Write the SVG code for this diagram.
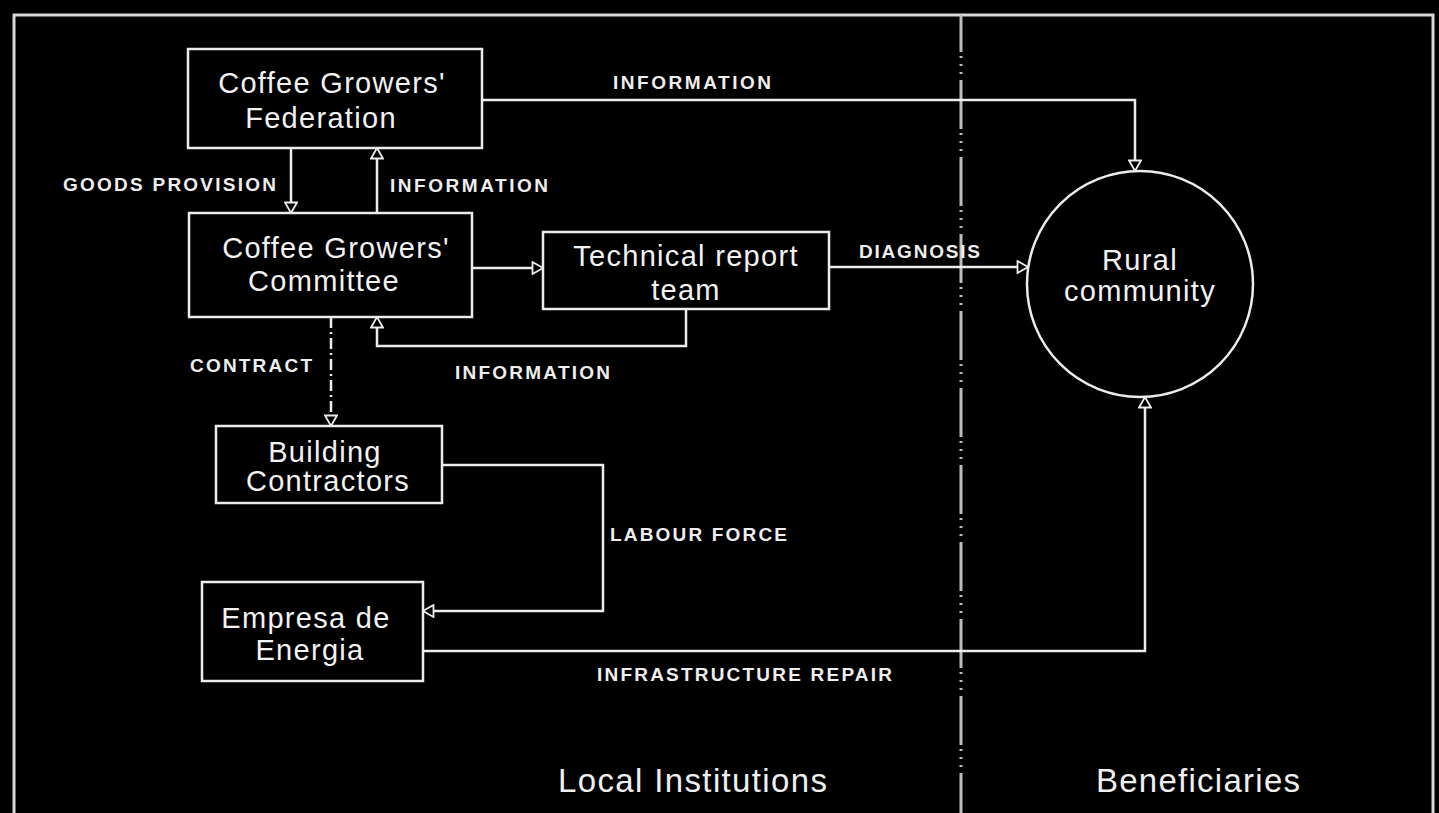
<svg xmlns="http://www.w3.org/2000/svg" width="1439" height="813" viewBox="0 0 1439 813">
  <style>
    .frame { fill: none; stroke: #d8d8d8; stroke-width: 3; }
    .divider { fill: none; stroke: #bdbdbd; stroke-width: 3; stroke-dasharray: 49 4 2 6 2 6 2 6; stroke-dashoffset: 12; }
    .box { fill: #000; stroke: #ececec; stroke-width: 2.5; }
    .conn { fill: none; stroke: #ececec; stroke-width: 2.5; marker-end: url(#open); }
    .dashdot { stroke-dasharray: 11 4 2 4; }
    .node { font-family: "Liberation Sans", Arial, sans-serif; font-size: 29px; fill: #f2f2f2; text-anchor: middle; letter-spacing: 1.3px; }
    .lbl { font-family: "Liberation Sans", Arial, sans-serif; font-size: 19px; font-weight: bold; fill: #eeeeee; }
    .zone { font-family: "Liberation Sans", Arial, sans-serif; font-size: 33px; fill: #efefef; }
  </style>
  <defs>
    <marker id="open" viewBox="0 0 14 14" markerWidth="14" markerHeight="14" refX="12" refY="7" orient="auto" markerUnits="userSpaceOnUse">
      <path d="M1.5,1 L12,7 L1.5,13 Z" fill="#000" stroke="#ececec" stroke-width="1.8" stroke-linejoin="miter"/>
    </marker>
  </defs>

  <rect width="1439" height="813" fill="#000"/>

  <!-- outer frame (open at the bottom) -->
  <path class="frame" d="M14,813 V15 H1433 V813"/>
  <!-- zone divider -->
  <line class="divider" x1="961" y1="15" x2="961" y2="813"/>

  <!-- connectors -->
  <g id="connectors">
    <path class="conn" d="M482,100 H1135 V171"/>
    <path class="conn" d="M291,148 V213"/>
    <path class="conn" d="M377,213 V148"/>
    <path class="conn" d="M472,268 H543"/>
    <path class="conn" d="M686,309 V346 H377 V317"/>
    <path class="conn dashdot" d="M331,317 V426"/>
    <path class="conn" d="M829,267 H1028"/>
    <path class="conn" d="M442,465 H603 V611 H423"/>
    <path class="conn" d="M423,651 H1145 V397"/>
  </g>

  <!-- connector labels -->
  <g id="labels">
    <text class="lbl" x="613" y="89" textLength="158" lengthAdjust="spacing">INFORMATION</text>
    <text class="lbl" x="63" y="191" textLength="213" lengthAdjust="spacing">GOODS PROVISION</text>
    <text class="lbl" x="390" y="192" textLength="158" lengthAdjust="spacing">INFORMATION</text>
    <text class="lbl" x="859" y="258" textLength="121" lengthAdjust="spacing">DIAGNOSIS</text>
    <text class="lbl" x="190" y="372" textLength="122" lengthAdjust="spacing">CONTRACT</text>
    <text class="lbl" x="455" y="379" textLength="155" lengthAdjust="spacing">INFORMATION</text>
    <text class="lbl" x="610" y="541" textLength="177" lengthAdjust="spacing">LABOUR FORCE</text>
    <text class="lbl" x="597" y="681" textLength="295" lengthAdjust="spacing">INFRASTRUCTURE REPAIR</text>
  </g>

  <!-- nodes -->
  <g id="federation">
    <rect class="box" x="188" y="49" width="294" height="99"/>
    <text class="node" x="332" y="93">Coffee Growers'</text>
    <text class="node" x="321" y="128">Federation</text>
  </g>
  <g id="committee">
    <rect class="box" x="189" y="213" width="283" height="104"/>
    <text class="node" x="336" y="258">Coffee Growers'</text>
    <text class="node" x="324" y="291">Committee</text>
  </g>
  <g id="technical-team">
    <rect class="box" x="543" y="232" width="286" height="77"/>
    <text class="node" x="686" y="266">Technical report</text>
    <text class="node" x="686" y="300">team</text>
  </g>
  <g id="building-contractors">
    <rect class="box" x="216" y="426" width="226" height="77"/>
    <text class="node" x="325" y="462">Building</text>
    <text class="node" x="328" y="491">Contractors</text>
  </g>
  <g id="empresa-energia">
    <rect class="box" x="202" y="582" width="221" height="99"/>
    <text class="node" x="306" y="628">Empresa de</text>
    <text class="node" x="310" y="660">Energia</text>
  </g>
  <g id="rural-community">
    <circle class="box" cx="1140" cy="284" r="113"/>
    <text class="node" x="1140" y="270">Rural</text>
    <text class="node" x="1140" y="301">community</text>
  </g>

  <!-- zone captions -->
  <text class="zone" x="558" y="792" textLength="269" lengthAdjust="spacing">Local Institutions</text>
  <text class="zone" x="1096" y="792" textLength="204" lengthAdjust="spacing">Beneficiaries</text>
</svg>
